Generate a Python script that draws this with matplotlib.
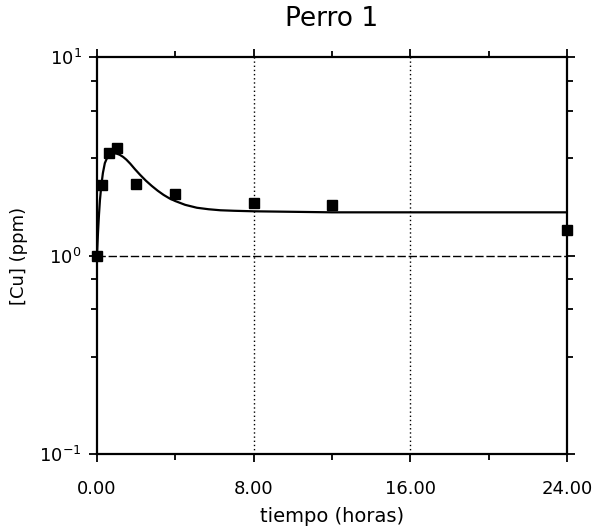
import numpy as np
import matplotlib
matplotlib.use("Agg")
import matplotlib.pyplot as plt
from matplotlib.ticker import FixedLocator, NullFormatter

# data points (time in hours, [Cu] in ppm)
t_obs = [0.0, 0.25, 0.6, 1.0, 2.0, 4.0, 8.0, 12.0, 24.0]
cu_obs = [1.0, 2.26, 3.3, 3.5, 2.28, 2.03, 1.83, 1.80, 1.35]

# fitted curve
t_fit = [0.0, 0.05, 0.1, 0.15, 0.22, 0.3, 0.4, 0.55, 0.7, 0.85, 1.0, 1.15, 1.33,
         1.5, 1.7, 1.94, 2.2, 2.5, 2.8, 3.1, 3.4, 3.7, 4.0, 4.5, 5.1, 5.7,
         6.3, 7.0, 8.0, 10.0, 12.0, 16.0, 20.0, 24.0]
cu_fit = [1.0, 1.3, 1.6, 1.9, 2.25, 2.6, 2.92, 3.16, 3.26, 3.28, 3.26, 3.22, 3.14,
          3.04, 2.9, 2.72, 2.55, 2.38, 2.24, 2.12, 2.02, 1.94, 1.88, 1.8, 1.74, 1.71,
          1.69, 1.68, 1.67, 1.66, 1.65, 1.65, 1.65, 1.65]

x_ticks = [0, 8, 16, 24]
x_ticklabels = ["0.00", "8.00", "16.00", "24.00"]
y_ticks = [0.1, 1, 10]
y_ticklabels = ["10$^{-1}$", "10$^{0}$", "10$^{1}$"]

fig = plt.figure(figsize=(5.97, 5.30), dpi=100)
ax = fig.add_axes([97/597, 1-454/530, (567-97)/597, (454-57)/530])

ax.set_yscale("log")
ax.set_xlim(0, 24)
ax.set_ylim(0.1, 10)

# grid lines
for xv in [8, 16]:
    ax.axvline(xv, color="black", lw=1.0, ls=(0, (1, 2)), zorder=1)
ax.axhline(1, color="black", lw=1.0, ls=(0, (6, 2)), zorder=1)

ax.plot(t_fit, cu_fit, color="black", lw=1.6, zorder=3)
ax.plot(t_obs, cu_obs, ls="none", marker="s", ms=7, color="black", zorder=4, clip_on=False)

ax.set_xticks(x_ticks)
ax.set_xticklabels(x_ticklabels)
ax.xaxis.set_minor_locator(FixedLocator([4, 12, 20]))
ax.set_yticks(y_ticks)
ax.set_yticklabels(y_ticklabels)
minor_y = []
for d in [1, 10]:
    for f in [0.12, 0.27, 0.51]:
        minor_y.append(d * 10 ** (-f))
ax.yaxis.set_minor_locator(FixedLocator(minor_y))
ax.yaxis.set_minor_formatter(NullFormatter())

ax.tick_params(which="both", direction="out", top=True, right=True, width=1.3, colors="black")
ax.tick_params(which="major", length=6)
ax.tick_params(which="minor", length=4)
ax.tick_params(axis="x", which="major", labelsize=13, pad=13)
ax.tick_params(axis="y", which="major", labelsize=13, pad=5)

for s in ax.spines.values():
    s.set_linewidth(1.6)
    s.set_color("black")

ax.set_title("Perro 1", fontsize=19, pad=22)
ax.set_xlabel("tiempo (horas)", fontsize=14, labelpad=6)
ax.set_ylabel("[Cu] (ppm)", fontsize=13, labelpad=8)

fig.savefig("out.png", dpi=100)
